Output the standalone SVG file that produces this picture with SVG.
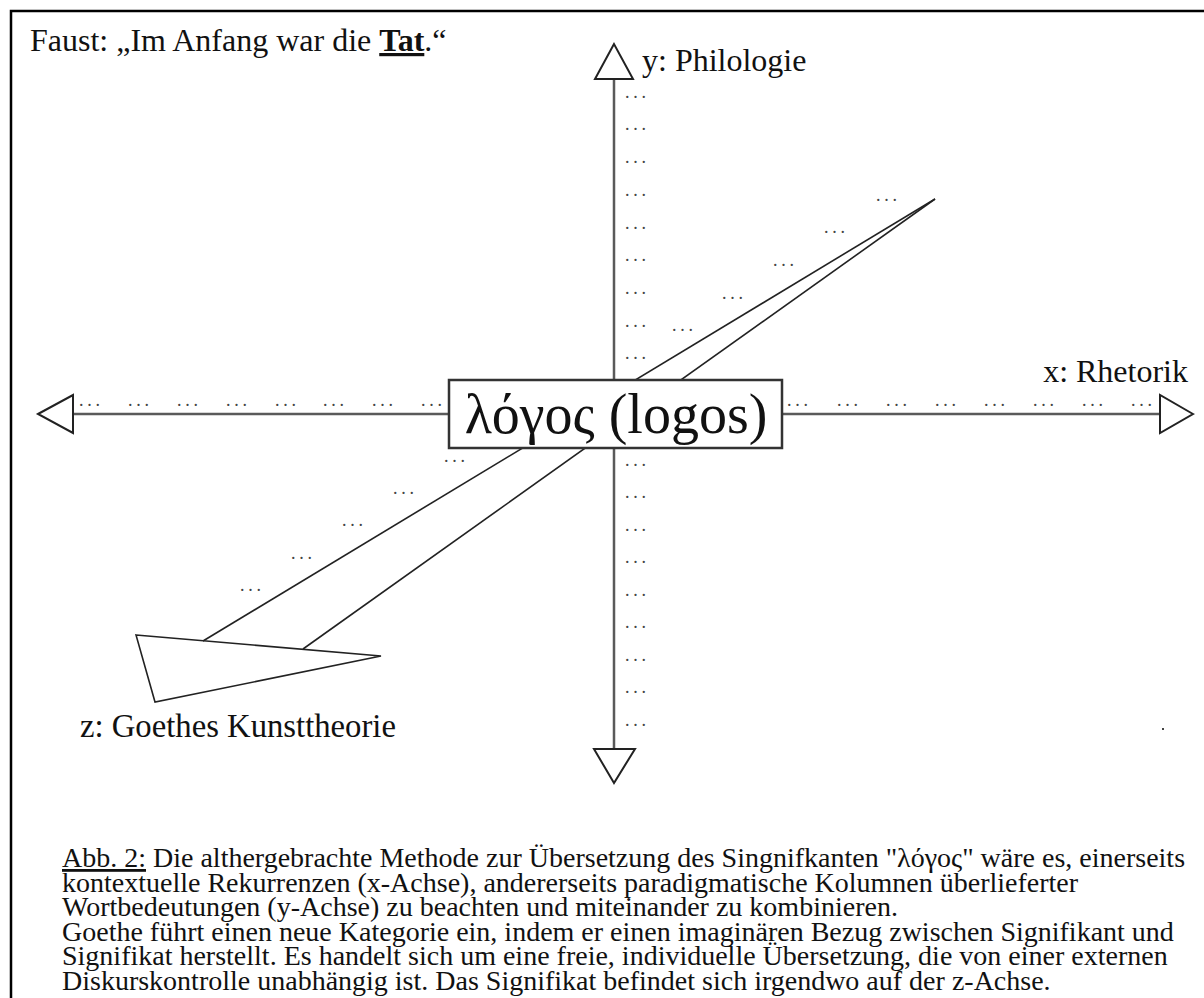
<svg xmlns="http://www.w3.org/2000/svg" width="1204" height="998" viewBox="0 0 1204 998">
  <style>
    .lbl { font-family: "Liberation Serif", "Times New Roman", serif; font-size: 32px; fill: #111; }
    .cap { font-family: "Liberation Serif", "Times New Roman", serif; font-size: 28px; fill: #111; }
    .dots { font-family: "Liberation Serif", "Times New Roman", serif; font-size: 18px; letter-spacing: 3.8px; fill: #444; }
    .axis { stroke: #5a5a5a; stroke-width: 2.5; fill: none; }
    .head { stroke: #222; stroke-width: 2; fill: #fff; stroke-linejoin: miter; }
    .zline { stroke: #222; stroke-width: 1.6; fill: none; }
  </style>
  <rect x="0" y="0" width="1204" height="998" fill="#fff"/>
  <path d="M11,998 V11 H1204" fill="none" stroke="#000" stroke-width="2.5"/>

  <g id="connectors">
    <line class="axis" x1="73" y1="414" x2="449" y2="414"/>
    <line class="axis" x1="782" y1="414" x2="1160" y2="414"/>
    <line class="axis" x1="614" y1="79" x2="614" y2="380"/>
    <line class="axis" x1="614" y1="448" x2="614" y2="749"/>
    <polygon class="head" points="38,414 73,395 73,433"/>
    <polygon class="head" points="1193,414 1160,395 1160,433"/>
    <polygon class="head" points="614,44 595,79 633,79"/>
    <polygon class="head" points="614,783 594,749 635,749"/>
    <line class="zline" x1="935" y1="199" x2="203" y2="641"/>
    <line class="zline" x1="935" y1="199" x2="303" y2="649"/>
  </g>

  <g id="z-triangle">
    <polygon points="136,635 381,656 155,702" fill="none" stroke="#222" stroke-width="1.6"/>
  </g>

  <g id="node-logos">
    <rect x="449" y="380" width="333" height="68" fill="#fff" stroke="#333" stroke-width="2.5"/>
    <text x="616" y="433" text-anchor="middle" font-family="Liberation Serif, Times New Roman, serif" font-size="56" fill="#111">λόγος (logos)</text>
  </g>

  <g id="dots-y">
    <text class="dots" x="625" y="98">...</text>
    <text class="dots" x="625" y="130">...</text>
    <text class="dots" x="625" y="163">...</text>
    <text class="dots" x="625" y="196">...</text>
    <text class="dots" x="625" y="229">...</text>
    <text class="dots" x="625" y="261">...</text>
    <text class="dots" x="625" y="294">...</text>
    <text class="dots" x="625" y="327">...</text>
    <text class="dots" x="625" y="359">...</text>
    <text class="dots" x="625" y="466">...</text>
    <text class="dots" x="625" y="498">...</text>
    <text class="dots" x="625" y="531">...</text>
    <text class="dots" x="625" y="563">...</text>
    <text class="dots" x="625" y="596">...</text>
    <text class="dots" x="625" y="628">...</text>
    <text class="dots" x="625" y="661">...</text>
    <text class="dots" x="625" y="693">...</text>
    <text class="dots" x="625" y="726">...</text>
  </g>
  <g id="dots-x">
    <text class="dots" x="79" y="406">...</text>
    <text class="dots" x="128" y="406">...</text>
    <text class="dots" x="177" y="406">...</text>
    <text class="dots" x="226" y="406">...</text>
    <text class="dots" x="275" y="406">...</text>
    <text class="dots" x="323" y="406">...</text>
    <text class="dots" x="372" y="406">...</text>
    <text class="dots" x="421" y="406">...</text>
    <text class="dots" x="787" y="406">...</text>
    <text class="dots" x="837" y="406">...</text>
    <text class="dots" x="886" y="406">...</text>
    <text class="dots" x="935" y="406">...</text>
    <text class="dots" x="984" y="406">...</text>
    <text class="dots" x="1033" y="406">...</text>
    <text class="dots" x="1082" y="406">...</text>
    <text class="dots" x="1131" y="406">...</text>
  </g>
  <g id="dots-z">
    <text class="dots" x="876" y="201">...</text>
    <text class="dots" x="824" y="233">...</text>
    <text class="dots" x="773" y="266">...</text>
    <text class="dots" x="722" y="299">...</text>
    <text class="dots" x="672" y="331">...</text>
    <text class="dots" x="444" y="462">...</text>
    <text class="dots" x="393" y="494">...</text>
    <text class="dots" x="342" y="526">...</text>
    <text class="dots" x="291" y="559">...</text>
    <text class="dots" x="240" y="591">...</text>
  </g>

  <g id="label-faust">
    <text class="lbl" x="30" y="51">Faust: „Im Anfang war die <tspan font-weight="bold" text-decoration="underline">Tat</tspan>.“</text>
  </g>
  <g id="label-y">
    <text class="lbl" x="642" y="71">y: Philologie</text>
  </g>
  <g id="label-x">
    <text class="lbl" x="1188" y="382" text-anchor="end">x: Rhetorik</text>
  </g>
  <g id="label-z">
    <text class="lbl" x="80" y="737" style="font-size:32.7px">z: Goethes Kunsttheorie</text>
  </g>
  <rect x="1162" y="728" width="2" height="2" fill="#444"/>

  <g id="caption">
    <text class="cap" x="62" y="867"><tspan text-decoration="underline">Abb. 2:</tspan> Die althergebrachte Methode zur Übersetzung des Singnifkanten "λόγος" wäre es, einerseits</text>
    <text class="cap" x="62" y="891.5">kontextuelle Rekurrenzen (x-Achse), andererseits paradigmatische Kolumnen überlieferter</text>
    <text class="cap" x="62" y="916">Wortbedeutungen (y-Achse) zu beachten und miteinander zu kombinieren.</text>
    <text class="cap" x="62" y="940.5">Goethe führt einen neue Kategorie ein, indem er einen imaginären Bezug zwischen Signifikant und</text>
    <text class="cap" x="62" y="965">Signifikat herstellt. Es handelt sich um eine freie, individuelle Übersetzung, die von einer externen</text>
    <text class="cap" x="62" y="989.5">Diskurskontrolle unabhängig ist. Das Signifikat befindet sich irgendwo auf der z-Achse.</text>
  </g>
</svg>
